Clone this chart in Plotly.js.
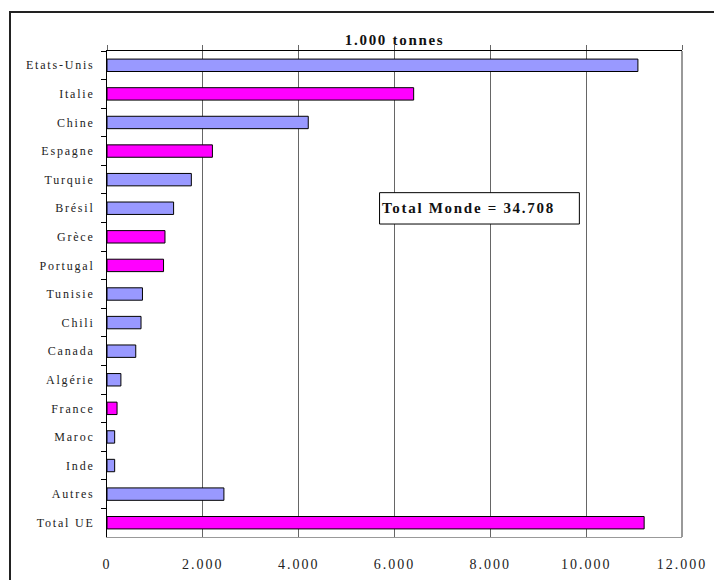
<!DOCTYPE html>
<html>
<head>
<meta charset="utf-8">
<script src="https://cdn.plot.ly/plotly-3.0.1.min.js"></script>
<style>
  html, body { margin: 0; padding: 0; background: #fff; overflow: hidden; }
  #page { position: relative; width: 714px; height: 580px; overflow: hidden; }
  #chart { position: absolute; left: 0; top: 0; width: 714px; height: 580px; }
  /* page frame: only its left and top edges fall inside the window */
  #frame {
    position: absolute; left: 9px; top: 11px; width: 900px; height: 900px;
    border-left: 2px solid #222; border-top: 2px solid #222;
    pointer-events: none;
  }
  /* spaced-out serif lettering */
  #chart .ytick text { letter-spacing: 1.8px; }
  #chart .xtick text { letter-spacing: 2px; }
  #chart .annotation-text { letter-spacing: 1.7px; }
</style>
</head>
<body>
<div id="page">
  <div id="chart"></div>
  <div id="frame"></div>
</div>
<script>
// Production by country, 1.000 tonnes
const countries = ["Etats-Unis", "Italie", "Chine", "Espagne", "Turquie", "Brésil", "Grèce",
  "Portugal", "Tunisie", "Chili", "Canada", "Algérie", "France", "Maroc", "Inde", "Autres", "Total UE"];
const production = [11080, 6400, 4200, 2200, 1760, 1390, 1210, 1180, 740, 710, 600, 290, 210, 160, 160, 2440, 11210];
const inEU = [false, true, false, true, false, false, true, true, false, false, false, false, true, false, false, false, true];
const xTicks = [0, 2000, 4000, 6000, 8000, 10000, 12000];
const unitLabel = "1.000 tonnes";
const worldTotalLabel = "Total Monde = 34.708";

const EU_COLOR = "#FF00FF";
const OTHER_COLOR = "#9999FF";
const serif = "Liberation Serif, Times New Roman, serif";

const bars = {
  type: "bar",
  orientation: "h",
  y: countries,
  x: production,
  marker: {
    color: inEU.map(eu => eu ? EU_COLOR : OTHER_COLOR),
    line: { color: "#000", width: 1 }
  },
  hoverinfo: "y+x"
};

// empty companion trace so the top value axis (ticks only) is drawn
const topAxisCarrier = {
  type: "scatter",
  mode: "markers",
  x: [],
  y: [],
  xaxis: "x2",
  yaxis: "y",
  hoverinfo: "skip"
};

// world-total box edges (paper units)
const box = { x0: 0.474, x1: 0.8215, y0: 0.644, y1: 0.7085 };

const layout = {
  width: 714,
  height: 580,
  margin: { l: 107, r: 32, t: 51, b: 43 },
  paper_bgcolor: "rgba(0,0,0,0)",
  plot_bgcolor: "#fff",
  separators: ",.",
  showlegend: false,
  bargap: 0.566,
  font: { family: serif, color: "#222" },
  xaxis: {
    range: [0, 12000],
    tickvals: xTicks,
    tickformat: ",d",
    showgrid: true,
    gridcolor: "#666",
    gridwidth: 1,
    zeroline: false,
    showline: true,
    linecolor: "#999",
    linewidth: 1,
    ticks: "",
    ticklabelstandoff: 14,
    tickfont: { family: serif, size: 14, color: "#222" },
    fixedrange: true
  },
  xaxis2: {
    overlaying: "x",
    anchor: "y",
    side: "top",
    range: [0, 12000],
    tickvals: xTicks,
    showticklabels: false,
    showgrid: false,
    zeroline: false,
    showline: true,
    linecolor: "#000",
    linewidth: 1.5,
    ticks: "outside",
    ticklen: 5,
    tickcolor: "#666",
    tickwidth: 1,
    fixedrange: true
  },
  yaxis: {
    type: "category",
    autorange: "reversed",
    showgrid: false,
    zeroline: false,
    showline: true,
    linecolor: "#000",
    linewidth: 1,
    ticks: "outside",
    tickson: "boundaries",
    ticklen: 5,
    tickcolor: "#000",
    ticklabelstandoff: 9,
    tickfont: { family: serif, size: 12, color: "#222" },
    fixedrange: true
  },
  annotations: [
    {
      text: "<b>" + unitLabel + "</b>",
      xref: "paper", yref: "paper",
      x: 0.5, y: 1.0226,
      xanchor: "center", yanchor: "middle",
      showarrow: false,
      font: { family: serif, size: 15, color: "#111" }
    },
    {
      text: "<b>" + worldTotalLabel + "</b>",
      xref: "paper", yref: "paper",
      x: 0.628, y: (box.y0 + box.y1) / 2,
      xanchor: "center", yanchor: "middle",
      showarrow: false,
      font: { family: serif, size: 15, color: "#111" }
    }
  ],
  shapes: [
    {
      // right edge of the plot area
      type: "line",
      xref: "paper", yref: "paper",
      x0: 1, x1: 1, y0: 0, y1: 1,
      line: { color: "#777", width: 1.5 },
      layer: "above"
    },
    {
      type: "rect",
      xref: "paper", yref: "paper",
      x0: box.x0, x1: box.x1, y0: box.y0, y1: box.y1,
      line: { color: "#000", width: 1 },
      fillcolor: "#fff",
      layer: "above"
    }
  ]
};

Plotly.newPlot("chart", [bars, topAxisCarrier], layout, { displayModeBar: false, staticPlot: true });
</script>
</body>
</html>
